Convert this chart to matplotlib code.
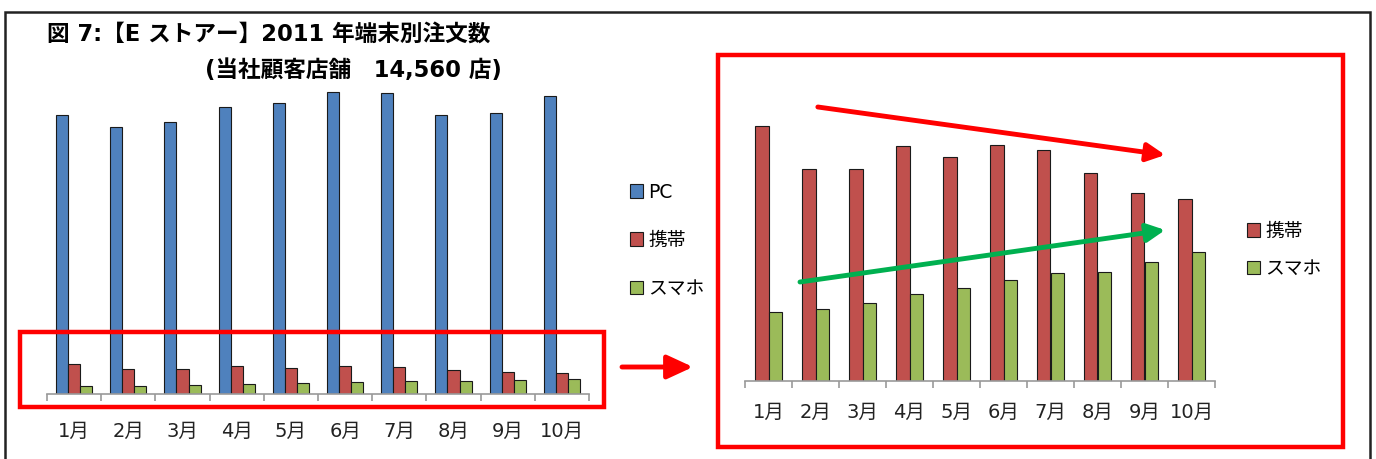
import matplotlib
matplotlib.use("Agg")
import matplotlib.pyplot as plt
from matplotlib.patches import Rectangle, FancyArrowPatch
import numpy as np

plt.rcParams['font.family'] = ['DejaVu Sans', 'Noto Sans CJK JP']

months = ["1月", "2月", "3月", "4月", "5月", "6月", "7月", "8月", "9月", "10月"]
pc_orders = [2370, 2270, 2310, 2440, 2470, 2570, 2560, 2370, 2390, 2530]
mobile_orders = [255, 212, 212, 235, 224, 236, 231, 208, 188, 182]
smartphone_orders = [69, 72, 78, 87, 93, 101, 108, 109, 119, 129]

blue = "#4F81BD"
red = "#C0504D"
green = "#9BBB59"
edge = "#1a1a1a"

W, H = 1376, 459
fig = plt.figure(figsize=(W / 100, H / 100), dpi=100)


def fig_box(x0, y0, x1, y1):
    # pixel box (top-left origin) -> figure fraction [left, bottom, width, height]
    return [x0 / W, 1 - y1 / H, (x1 - x0) / W, (y1 - y0) / H]


def style_axis(ax):
    for s in ["left", "right", "top"]:
        ax.spines[s].set_visible(False)
    ax.spines["bottom"].set_color("#999999")
    ax.spines["bottom"].set_linewidth(1.2)
    ax.set_yticks([])
    ax.set_xlim(-0.5, len(months) - 0.5)
    ax.set_xticks(np.arange(len(months) + 1) - 0.5, minor=False)
    ax.set_xticklabels([])
    ax.tick_params(axis="x", which="major", length=5, color="#999999", width=1.2)
    ax.set_xticks(np.arange(len(months)), minor=True)
    ax.set_xticklabels(months, minor=True, fontsize=14, color="#222222")
    ax.tick_params(axis="x", which="minor", length=0)


x = np.arange(len(months))

# all three terminals
ax1 = fig.add_axes(fig_box(47, 80, 589, 394))
w3 = 1 / 4.5
b_pc = ax1.bar(x - w3, pc_orders, w3, color=blue, edgecolor=edge, linewidth=0.8, label="PC")
b_mo = ax1.bar(x, mobile_orders, w3, color=red, edgecolor=edge, linewidth=0.8, label="携帯")
b_sp = ax1.bar(x + w3, smartphone_orders, w3, color=green, edgecolor=edge, linewidth=0.8, label="スマホ")
ax1.set_ylim(0, 314 * 8.5)
style_axis(ax1)
ax1.tick_params(axis="x", which="minor", pad=20)

fig.legend(handles=[b_pc, b_mo, b_sp], labels=["PC", "携帯", "スマホ"],
           loc="upper left", bbox_to_anchor=(622 / W, 1 - 175 / H),
           frameon=False, fontsize=13.5, handlelength=0.7, handleheight=0.7,
           handletextpad=0.3, labelspacing=1.55, borderaxespad=0)

# mobile vs smartphone close-up
ax2 = fig.add_axes(fig_box(745, 100, 1215, 381))
w2 = 1 / 3.5
r_mo = ax2.bar(x - w2 / 2, mobile_orders, w2, color=red, edgecolor=edge, linewidth=0.8)
r_sp = ax2.bar(x + w2 / 2, smartphone_orders, w2, color=green, edgecolor=edge, linewidth=0.8)
ax2.set_ylim(0, 281)
style_axis(ax2)
ax2.tick_params(axis="x", which="minor", pad=16)

fig.legend(handles=[r_mo, r_sp], labels=["携帯", "スマホ"],
           loc="upper left", bbox_to_anchor=(1239 / W, 1 - 214 / H),
           frameon=False, fontsize=13.5, handlelength=0.7, handleheight=0.7,
           handletextpad=0.3, labelspacing=1.0, borderaxespad=0)

# trend arrows
ax2.annotate("", xy=(8.44, 226), xytext=(1.05, 274), annotation_clip=False,
             arrowprops=dict(arrowstyle="-|>,head_length=1.1,head_width=0.55",
                             color="#FF0000", lw=3.5, shrinkA=0, shrinkB=0))
ax2.annotate("", xy=(8.44, 151), xytext=(0.67, 99), annotation_clip=False,
             arrowprops=dict(arrowstyle="-|>,head_length=1.1,head_width=0.55",
                             color="#00B050", lw=3.5, shrinkA=0, shrinkB=0))

# highlight boxes and connector arrow
for x0, y0, x1, y1 in [(20, 332, 604, 407), (718, 55, 1343, 447)]:
    fig.add_artist(Rectangle((x0 / W, 1 - y1 / H), (x1 - x0) / W, (y1 - y0) / H,
                             transform=fig.transFigure, fill=False,
                             edgecolor="#FF0000", linewidth=3.2))
fig.add_artist(FancyArrowPatch(
    (622 / W, 1 - 367 / H), (693 / W, 1 - 367 / H), transform=fig.transFigure,
    arrowstyle="-|>,head_length=1.3,head_width=0.6", color="#FF0000",
    lw=3.5, shrinkA=0, shrinkB=0, mutation_scale=12))

# outer frame
fig.add_artist(Rectangle((5 / W, -0.05), 1365 / W, 1 - 12 / H + 0.05,
                         transform=fig.transFigure, fill=False,
                         edgecolor="#222222", linewidth=1.8))

fig.text(47 / W, 1 - 34 / H, "図 7:【E ストアー】2011 年端末別注文数",
         fontsize=16.3, fontweight="bold", va="center", ha="left")
fig.text(205 / W, 1 - 71 / H, "(当社顧客店舗　14,560 店)",
         fontsize=16.3, fontweight="bold", va="center", ha="left")

fig.savefig("out.png", dpi=100)
